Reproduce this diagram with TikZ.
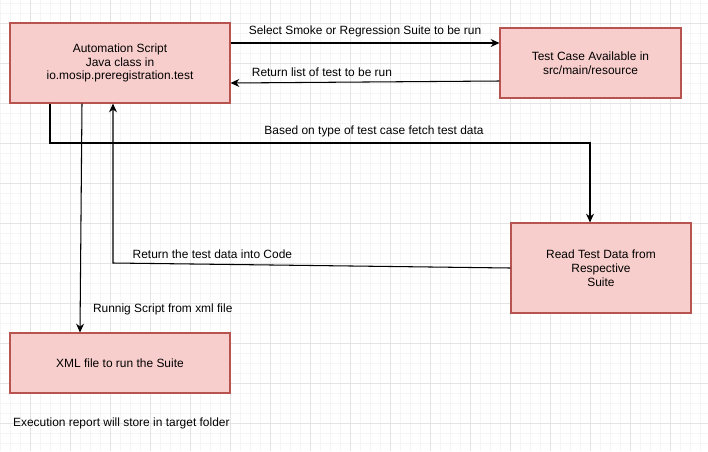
\documentclass[tikz,border=0pt]{standalone}
\usepackage{fontspec}
\setmainfont{Liberation Sans}
\usepackage{tikz}
\usepackage{xcolor}
\usetikzlibrary{arrows.meta, positioning, calc}

\definecolor{boxfill}{HTML}{F8CECC}
\definecolor{boxline}{HTML}{B85450}
\definecolor{gridmajor}{HTML}{E4E4E4}
\definecolor{gridminor}{HTML}{F5F5F5}

\tikzset{
  block/.style={draw=boxline, fill=boxfill, line width=0.6pt, align=center,
    inner sep=0pt, font=\fontsize{6.8pt}{7.9pt}\selectfont},
  lbl/.style={font=\fontsize{6.8pt}{7.9pt}\selectfont, inner sep=1pt},
  arr/.style={-{Stealth[length=5pt,width=4.5pt]}, line width=0.6pt},
  link/.style={line width=0.6pt}
}

\begin{document}
\begin{tikzpicture}[x=0.02cm, y=-0.02cm]
\useasboundingbox (0,0) rectangle (708,451);
% background grid, as in the editor
\foreach \x in {0,10,...,700} \draw[gridminor, line width=0.3pt] (\x,0) -- (\x,451);
\foreach \y in {3,13,...,443} \draw[gridminor, line width=0.3pt] (0,\y) -- (708,\y);
\foreach \x in {30,70,...,690} \draw[gridmajor, line width=0.4pt] (\x,0) -- (\x,451);
\foreach \y in {23,63,...,443} \draw[gridmajor, line width=0.4pt] (0,\y) -- (708,\y);

% boxes
\node[block, minimum width=4.4cm, minimum height=1.6cm] (script) at (120,63)
  {Automation Script\\Java class in\\io.mosip.preregistration.test};
\node[block, minimum width=3.62cm, minimum height=1.4cm] (testcase) at (590.5,63)
  {Test Case Available in\\src/main/resource};
\node[block, minimum width=3.6cm, minimum height=1.8cm] (readdata) at (601,268)
  {Read Test Data from\\Respective\\Suite};
\node[block, minimum width=4.4cm, minimum height=1.2cm] (xmlfile) at (120,363)
  {XML file to run the Suite};
\node[lbl, anchor=west] (report) at (11,423) {Execution report will store in target folder};

% bend points
\coordinate (fetch) at (590,143);
\coordinate (back) at (113,263);

% connectors
\draw[arr] (script.east |- 0,43) -- node[lbl, above=2pt] {Select Smoke or Regression Suite to be run} (testcase.west |- 0,43);
\draw[arr] (testcase.west |- 0,81) -- node[lbl, above=2pt, pos=0.66] {Return list of test to be run} (script.east |- 0,83);
\draw[arr] (script.south -| 50,0) |- node[lbl, above=2pt, pos=0.8] {Based on type of test case fetch test data} (fetch) -- (readdata.north -| fetch);
\draw[arr] (readdata.west) -- node[lbl, above=2pt, pos=0.75] {Return the test data into Code} (back) -- (script.south -| back);
\draw[arr] (script.south -| 82,0) -- node[lbl, right=6pt, pos=0.9] {Runnig Script from xml file} (xmlfile.north -| 80,0);
\end{tikzpicture}
\end{document}
